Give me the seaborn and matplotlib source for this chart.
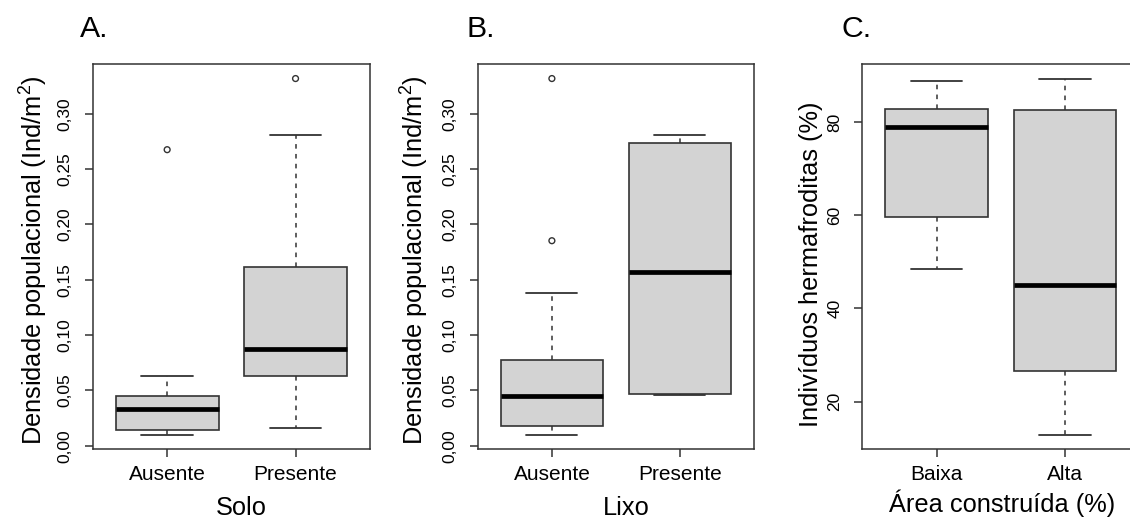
import numpy as np
import pandas as pd
import matplotlib
matplotlib.use("Agg")
import matplotlib.pyplot as plt
import seaborn as sns

# ---- data (five-number summaries: low whisker, Q1, median, Q3, high whisker)
solo_groups = ["Ausente", "Presente"]
solo_ausente = [0.0099, 0.0142, 0.0332, 0.0452, 0.0633]
solo_presente = [0.0163, 0.0627, 0.0874, 0.1616, 0.2806]
solo_out_groups = ["Ausente", "Presente"]
solo_out_values = [0.2676, 0.3319]

lixo_groups = ["Ausente", "Presente"]
lixo_ausente = [0.0099, 0.0178, 0.0452, 0.0775, 0.1377]
lixo_presente = [0.0457, 0.0466, 0.1573, 0.2737, 0.2806]
lixo_out_groups = ["Ausente", "Ausente"]
lixo_out_values = [0.1853, 0.3319]

area_groups = ["Baixa", "Alta"]
area_baixa = [48.5, 59.7, 79.0, 82.85, 88.86]
area_alta = [12.9, 26.6, 45.1, 82.6, 89.3]
area_out_groups = []
area_out_values = []

dens_ticks = [0.00, 0.05, 0.10, 0.15, 0.20, 0.25, 0.30]
dens_tick_labels = ["0,00", "0,05", "0,10", "0,15", "0,20", "0,25", "0,30"]
herm_ticks = [20, 40, 60, 80]
herm_tick_labels = ["20", "40", "60", "80"]

# ---- style
sns.set_theme(style="white")
plt.rcParams["font.family"] = ["Liberation Sans", "DejaVu Sans"]
plt.rcParams["mathtext.fontset"] = "custom"
plt.rcParams["mathtext.rm"] = "Liberation Sans"
plt.rcParams["mathtext.it"] = "Liberation Sans:italic"
plt.rcParams["lines.scale_dashes"] = False
plt.rcParams["text.color"] = "black"
plt.rcParams["axes.labelcolor"] = "black"
plt.rcParams["xtick.labelcolor"] = "black"
plt.rcParams["ytick.labelcolor"] = "black"

EDGE = "#333333"
FILL = "#D3D3D3"

W, H = 1130, 519
fig = plt.figure(figsize=(W / 100, H / 100), dpi=100)


def make_long(groups, arrays):
    rows = []
    for g, arr in zip(groups, arrays):
        for v in arr:
            rows.append((g, v))
    return pd.DataFrame(rows, columns=["grupo", "valor"])


def panel(rect, groups, arrays, out_groups, out_values, ticks, tick_labels,
          ylabel, xlabel, letter, ylab_x, ylab_y, xlab_x, xlab_y, letter_x):
    ax = fig.add_axes(rect)
    df = make_long(groups, arrays)
    sns.boxplot(data=df, x="grupo", y="valor", order=groups, ax=ax,
                width=0.8, color=FILL, saturation=1, linecolor=EDGE,
                linewidth=1.2, whis=(0, 100), showfliers=False,
                medianprops=dict(color="black", linewidth=3.4),
                whiskerprops=dict(color=EDGE, linewidth=1.1, linestyle=(0, (3.3, 3.8))),
                capprops=dict(color=EDGE, linewidth=1.3),
                boxprops=dict(edgecolor=EDGE, linewidth=1.2),
                capwidths=0.4)
    if len(out_values):
        odf = pd.DataFrame({"grupo": out_groups, "valor": out_values})
        sns.stripplot(data=odf, x="grupo", y="valor", order=groups, ax=ax,
                      jitter=False, marker="o", size=4.2, color=EDGE,
                      facecolor="none", edgecolor=EDGE, linewidth=1.0)
    allv = [v for a in arrays for v in a] + list(out_values)
    lo, hi = min(allv), max(allv)
    pad = 0.04 * (hi - lo)
    ax.set_ylim(lo - pad, hi + pad)
    ax.set_xlim(-0.58, len(groups) - 1 + 0.58)
    ax.set_yticks(ticks)
    ax.set_yticklabels(tick_labels, rotation=90, va="center", fontsize=12.5, color="black")
    ax.set_xticks(range(len(groups)))
    ax.set_xticklabels(groups, fontsize=15, color="black")
    ax.tick_params(axis="y", length=6, width=1.1, color=EDGE, pad=8.5, left=True)
    ax.tick_params(axis="x", length=6, width=1.1, color=EDGE, pad=5.5, bottom=True)
    for s in ax.spines.values():
        s.set_visible(True)
        s.set_color(EDGE)
        s.set_linewidth(1.1)
    ax.set_ylabel(ylabel, fontsize=18.3, va="baseline", color="black")
    ax.yaxis.set_label_coords(ylab_x, ylab_y)
    ax.set_xlabel(xlabel, fontsize=18.3, va="baseline", color="black")
    ax.xaxis.set_label_coords(xlab_x, xlab_y)
    ax.text(letter_x, 1.0718, letter, transform=ax.transAxes, fontsize=21.8,
            ha="left", va="baseline", color="black")
    ax.grid(False)
    return ax


bottom = (H - 449) / H
height = 384.7 / H

panel([92.7 / W, bottom, 277.3 / W, height], solo_groups, [solo_ausente, solo_presente],
      solo_out_groups, solo_out_values, dens_ticks, dens_tick_labels,
      "Densidade populacional (Ind/m$^2$)", "Solo", "A.",
      -0.1803, 0.491, 0.535, -0.1725, (80 - 92.7) / 277.3)

panel([477.7 / W, bottom, 276.3 / W, height], lixo_groups, [lixo_ausente, lixo_presente],
      lixo_out_groups, lixo_out_values, dens_ticks, dens_tick_labels,
      "Densidade populacional (Ind/m$^2$)", "Lixo", "B.",
      -0.1969, 0.491, 0.536, -0.1725, (466.7 - 477.7) / 276.3)

panel([862.3 / W, bottom, 277.0 / W, height], area_groups, [area_baixa, area_alta],
      area_out_groups, area_out_values, herm_ticks, herm_tick_labels,
      "Indivíduos hermafroditas (%)", "Área construída (%)", "C.",
      -0.1588, 0.479, 0.503, -0.163, (841.7 - 862.3) / 277.0)

fig.savefig("out.png", dpi=100)
